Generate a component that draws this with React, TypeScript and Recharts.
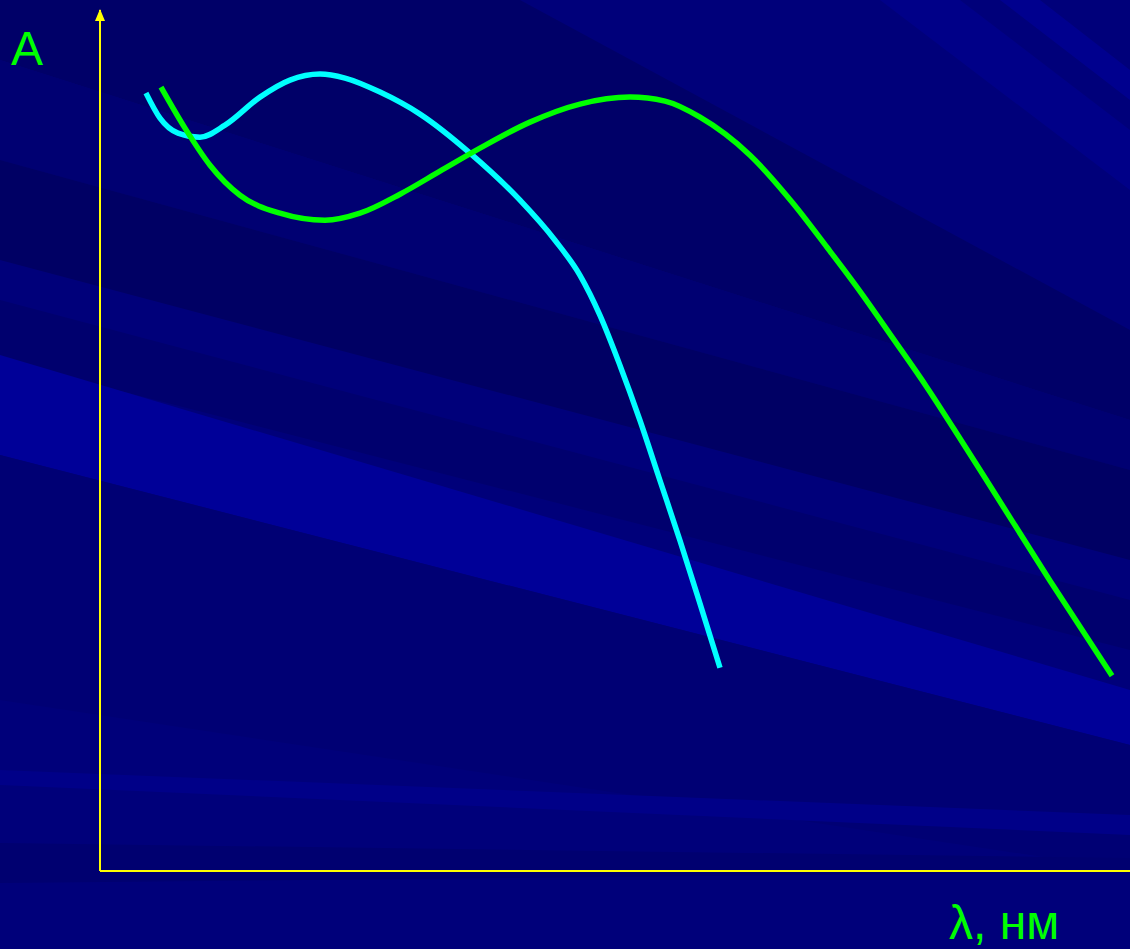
import { LineChart, Line, XAxis, YAxis, ReferenceLine, ReferenceDot } from 'recharts';

// wavelength axis position (0..1030) and absorbance (0..860)
const cyanX = [46, 60, 78, 100, 125, 160, 190, 220, 245, 280, 320, 370, 420, 455, 480, 500, 520, 540, 560, 580, 600, 620];
const cyanA = [777, 752, 737, 733, 745, 773, 790, 796, 792, 778, 756, 717, 670, 630, 595, 555, 505, 450, 390, 330, 267, 203];

const greenX = [61, 85, 110, 140, 180, 225, 260, 300, 340, 380, 430, 480, 530, 565, 600, 650, 693, 727, 760, 793, 827, 860, 893, 950, 1012];
const greenA = [783, 742, 705, 675, 657, 650, 657, 676, 699, 722, 748, 766, 773, 769, 753, 715, 667, 623, 579, 532, 483, 432, 380, 290, 195];

const cyanData = cyanX.map((x, i) => ({ x, a: cyanA[i] }));
const greenData = greenX.map((x, i) => ({ x, a: greenA[i] }));

const W = 1130;
const H = 949;

const Arrow = ({ cx, cy }: any) => (
  <polygon points={`${cx},${cy - 1} ${cx - 5},${cy + 11} ${cx + 5},${cy + 11}`} fill="#ffff00" />
);

const Background = () => (
  <svg width={W} height={H} style={{ position: 'absolute', left: 0, top: 0 }}>
    <rect width={W} height={H} fill="#00007a" />
    <polygon points="0,0 520,0 1130,330 1130,420 0,60" fill="#000068" />
    <polygon points="0,60 1130,420 1130,470 0,160" fill="#000072" />
    <polygon points="0,160 1130,470 1130,560 0,260" fill="#000064" />
    <polygon points="0,300 1130,600 1130,650 0,360" fill="#00006e" />
    <polygon points="0,355 1130,690 1130,745 0,455" fill="#000098" />
    <polygon points="0,455 1130,745 1130,870 0,700" fill="#000074" />
    <polygon points="0,770 1130,815 1130,835 0,785" fill="#000088" />
    <polygon points="0,843 1130,858 1130,872 0,883" fill="#000070" />
    <polygon points="880,0 960,0 1130,130 1130,190" fill="#000088" />
    <polygon points="1000,0 1040,0 1130,70 1130,100" fill="#00008e" />
  </svg>
);

const labelStyle = {
  position: 'absolute' as const,
  color: '#00ff00',
  fontFamily: 'Arial, "Liberation Sans", sans-serif',
  fontSize: 48,
  lineHeight: 1,
};

export default function App() {
  return (
    <div style={{ position: 'fixed', left: 0, top: 0, width: W, height: H, overflow: 'hidden' }}>
      <Background />
      <div style={{ position: 'absolute', left: 0, top: 0 }}>
        <LineChart width={W} height={H} margin={{ top: 10, right: 0, bottom: 78, left: 100 }}>
          <XAxis type="number" dataKey="x" domain={[0, 1030]} hide />
          <YAxis type="number" dataKey="a" domain={[0, 860]} hide />
          <ReferenceLine x={0} stroke="#ffff00" strokeWidth={2} />
          <ReferenceLine y={0} stroke="#ffff00" strokeWidth={2} />
          <ReferenceDot x={0} y={860} shape={Arrow} />
          <Line
            data={cyanData}
            dataKey="a"
            type="monotone"
            stroke="#00ffff"
            strokeWidth={5.5}
            dot={false}
            isAnimationActive={false}
          />
          <Line
            data={greenData}
            dataKey="a"
            type="monotone"
            stroke="#00ff00"
            strokeWidth={5.5}
            dot={false}
            isAnimationActive={false}
          />
        </LineChart>
      </div>
      <div style={{ ...labelStyle, left: 11, top: 25 }}>A</div>
      <div style={{ ...labelStyle, left: 949, top: 899 }}>λ, нм</div>
    </div>
  );
}
